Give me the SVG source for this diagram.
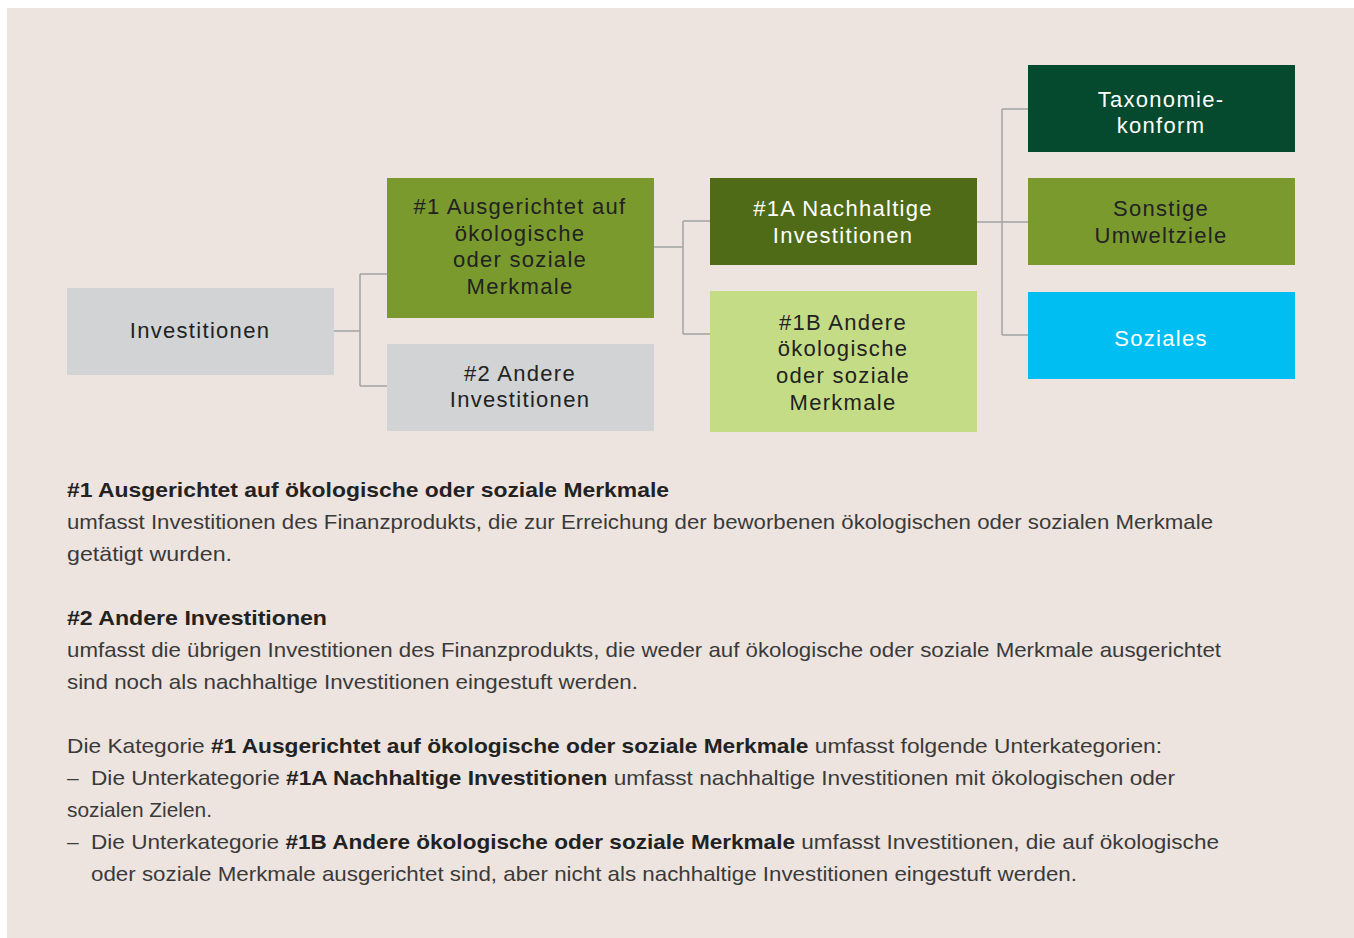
<svg xmlns="http://www.w3.org/2000/svg" width="1354" height="938" viewBox="0 0 1354 938">
<style>
.bx{font-family:"Liberation Sans",Arial,sans-serif;font-size:22px;letter-spacing:1.3px;text-anchor:middle;fill:#222}
.wt{fill:#ffffff}
.body{font-family:"Liberation Sans",Arial,sans-serif;font-size:21px;fill:#3a3a3a}
.b{font-weight:bold;fill:#222}
.con{fill:none;stroke:#a3a3a3;stroke-width:1.5}
</style>
<rect x="0" y="0" width="1354" height="938" fill="#ffffff"/>
<rect x="7" y="8" width="1347" height="930" fill="#ede4df"/>
<g id="connectors">
<path class="con" d="M333,331 H360 M360,274 V386 M360,274 H387 M360,386 H387"/>
<path class="con" d="M653,247 H683 M683,221 V334 M683,221 H710 M683,334 H710"/>
<path class="con" d="M976,222 H1028 M1002,109 V335 M1002,109 H1028 M1002,335 H1028"/>
</g>
<g id="investitionen">
<rect x="67" y="288" width="267" height="87" fill="#d1d3d5"/>
<text class="bx" x="200" y="338">Investitionen</text>
</g>
<g id="n1">
<rect x="387" y="178" width="267" height="140" fill="#7a9a2e"/>
<text class="bx" x="520" y="214">#1 Ausgerichtet auf</text>
<text class="bx" x="520" y="241">ökologische</text>
<text class="bx" x="520" y="267">oder soziale</text>
<text class="bx" x="520" y="294">Merkmale</text>
</g>
<g id="n2">
<rect x="387" y="344" width="267" height="87" fill="#d1d3d5"/>
<text class="bx" x="520" y="381">#2 Andere</text>
<text class="bx" x="520" y="407">Investitionen</text>
</g>
<g id="n1a">
<rect x="710" y="178" width="267" height="87" fill="#4f6b18"/>
<text class="bx wt" x="843" y="216">#1A Nachhaltige</text>
<text class="bx wt" x="843" y="243">Investitionen</text>
</g>
<g id="n1b">
<rect x="710" y="291" width="267" height="141" fill="#c5dc86"/>
<text class="bx" x="843" y="330">#1B Andere</text>
<text class="bx" x="843" y="356">ökologische</text>
<text class="bx" x="843" y="383">oder soziale</text>
<text class="bx" x="843" y="410">Merkmale</text>
</g>
<g id="taxonomie">
<rect x="1028" y="65" width="267" height="87" fill="#05492e"/>
<text class="bx wt" x="1161" y="107">Taxonomie-</text>
<text class="bx wt" x="1161" y="133">konform</text>
</g>
<g id="sonstige">
<rect x="1028" y="178" width="267" height="87" fill="#7a9a2e"/>
<text class="bx" x="1161" y="216">Sonstige</text>
<text class="bx" x="1161" y="243">Umweltziele</text>
</g>
<g id="soziales">
<rect x="1028" y="292" width="267" height="87" fill="#00bef2"/>
<text class="bx wt" x="1161" y="346">Soziales</text>
</g>
<g id="legend">
<text class="body b" x="67" y="497" textLength="602" lengthAdjust="spacingAndGlyphs">#1 Ausgerichtet auf ökologische oder soziale Merkmale</text>
<text class="body" x="67" y="529" textLength="1146" lengthAdjust="spacingAndGlyphs">umfasst Investitionen des Finanzprodukts, die zur Erreichung der beworbenen ökologischen oder sozialen Merkmale</text>
<text class="body" x="67" y="561" textLength="165" lengthAdjust="spacingAndGlyphs">getätigt wurden.</text>
<text class="body b" x="67" y="625" textLength="260" lengthAdjust="spacingAndGlyphs">#2 Andere Investitionen</text>
<text class="body" x="67" y="657" textLength="1154" lengthAdjust="spacingAndGlyphs">umfasst die übrigen Investitionen des Finanzprodukts, die weder auf ökologische oder soziale Merkmale ausgerichtet</text>
<text class="body" x="67" y="689" textLength="571" lengthAdjust="spacingAndGlyphs">sind noch als nachhaltige Investitionen eingestuft werden.</text>
<text class="body" x="67" y="753" textLength="1095" lengthAdjust="spacingAndGlyphs">Die Kategorie <tspan class="b">#1 Ausgerichtet auf ökologische oder soziale Merkmale</tspan> umfasst folgende Unterkategorien:</text>
<text class="body" x="67" y="785">–</text>
<text class="body" x="91" y="785" textLength="1084" lengthAdjust="spacingAndGlyphs">Die Unterkategorie <tspan class="b">#1A Nachhaltige Investitionen</tspan> umfasst nachhaltige Investitionen mit ökologischen oder</text>
<text class="body" x="67" y="817" textLength="145" lengthAdjust="spacingAndGlyphs">sozialen Zielen.</text>
<text class="body" x="67" y="849">–</text>
<text class="body" x="91" y="849" textLength="1128" lengthAdjust="spacingAndGlyphs">Die Unterkategorie <tspan class="b">#1B Andere ökologische oder soziale Merkmale</tspan> umfasst Investitionen, die auf ökologische</text>
<text class="body" x="91" y="881" textLength="986" lengthAdjust="spacingAndGlyphs">oder soziale Merkmale ausgerichtet sind, aber nicht als nachhaltige Investitionen eingestuft werden.</text>
</g>
</svg>
